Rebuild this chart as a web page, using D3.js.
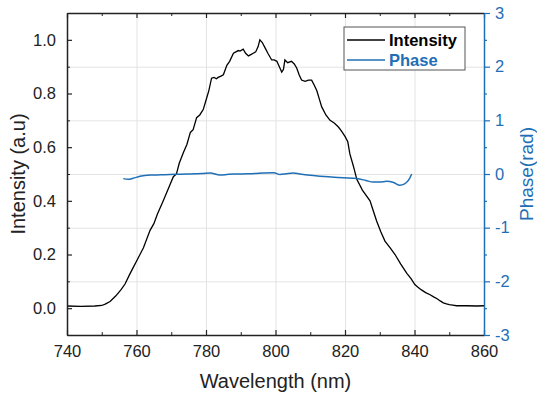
<html>
  <head>
    <meta charset="utf-8" />
    <script src="https://cdnjs.cloudflare.com/ajax/libs/d3/7.6.1/d3.min.js"></script>
    <style>
      body { margin: 0; background: #fff; }
      svg { font-family: "Liberation Sans", Arial, sans-serif; }
      .grid line { stroke: #e3e3e3; stroke-width: 1; }
      .grid path { display: none; }
    </style>
  </head>
  <body>
    <svg width="537" height="396"></svg>
  </body>
  <script>
    // intensity spectrum
    var wl = [740, 744, 748, 750, 751, 752.4, 754, 755.5, 756.7, 758, 759, 760, 761, 762, 763.9, 765, 766, 767.7,
      769, 770.6, 771.5, 772.3, 773.5, 774.5, 775.5, 776.3, 777.3, 778.2, 779.2, 780, 780.8, 781.6, 782.3, 783, 783.5,
      784.3, 785, 786, 786.8, 787.9, 788.6, 789.3, 789.8, 790.7, 791.4, 792.2, 792.9, 793.6, 794.3, 795, 795.5, 796.2,
      797, 797.8, 798.9, 799.6, 800.4, 801.1, 801.8, 802.3, 802.7, 803.5, 804.6, 805.4, 806.1, 806.8, 807.5, 808.5,
      809.5, 810.4, 811.2, 811.9, 812.6, 813.3, 814.5, 815.7, 816.9, 818.1, 819, 820, 820.8, 821.4, 822.4, 823.4,
      825, 827.2, 828.2, 829.1, 830.3, 831.5, 833, 834.4, 836, 837.8, 839, 840.1, 841, 842, 843.2, 844.5, 845.5,
      846.5, 847.4, 848.3, 849.2, 850, 851, 852.1, 855, 858, 860];
    var intensity = [0.008, 0.007, 0.008, 0.01, 0.015, 0.025, 0.045, 0.068, 0.09, 0.125, 0.15, 0.175, 0.2, 0.225,
      0.29, 0.315, 0.35, 0.40, 0.44, 0.49, 0.5, 0.54, 0.58, 0.61, 0.655, 0.665, 0.71, 0.72, 0.74, 0.775, 0.81, 0.857,
      0.86, 0.855, 0.86, 0.865, 0.87, 0.905, 0.92, 0.95, 0.955, 0.96, 0.958, 0.965, 0.95, 0.94, 0.945, 0.95, 0.955,
      0.975, 1.0, 0.99, 0.97, 0.95, 0.925, 0.925, 0.92, 0.90, 0.88, 0.89, 0.925, 0.915, 0.92, 0.91, 0.895, 0.87,
      0.85, 0.845, 0.85, 0.85, 0.83, 0.81, 0.78, 0.75, 0.72, 0.70, 0.69, 0.675, 0.66, 0.64, 0.62, 0.575, 0.53, 0.48,
      0.44, 0.40, 0.36, 0.325, 0.285, 0.25, 0.225, 0.20, 0.165, 0.13, 0.11, 0.088, 0.078, 0.068, 0.058, 0.05, 0.042,
      0.035, 0.027, 0.02, 0.016, 0.013, 0.011, 0.009, 0.009, 0.008, 0.009];

    // retrieved spectral phase
    var phaseWl = [756.2, 757.6, 759, 761, 764, 767, 769.6, 772, 774.4, 777, 779, 781.2, 784, 786.5, 788.8, 792,
      794, 796.5, 799.5, 801.3, 803, 805.1, 807, 810, 812.8, 816, 819.5, 823.4, 826, 828.1, 830, 832, 834, 835.8,
      837, 837.8, 838.6, 839.2];
    var phase = [-0.086, -0.1, -0.08, -0.043, -0.02, -0.015, -0.01, -0.005, 0.0, 0.005, 0.01, 0.02, -0.02, -0.005,
      0.0, 0.005, 0.01, 0.02, 0.025, -0.01, 0.005, 0.02, 0.0, -0.025, -0.04, -0.055, -0.07, -0.086, -0.12, -0.15,
      -0.15, -0.136, -0.16, -0.21, -0.19, -0.15, -0.08, 0.0];

    var xTicks = [740, 760, 780, 800, 820, 840, 860];
    var yTicks = [0.0, 0.2, 0.4, 0.6, 0.8, 1.0];
    var y2Ticks = [-3, -2, -1, 0, 1, 2, 3];
    var seriesNames = ["Intensity", "Phase"];

    var blue = "#1f6fb6";
    var pL = 67, pR = 484, pT = 13, pB = 335;
    var svg = d3.select("svg");

    var x = d3.scaleLinear().domain([740, 860]).range([pL, pR]);
    var y = d3.scaleLinear().domain([-0.1, 1.1]).range([pB, pT]);
    var y2 = d3.scaleLinear().domain([-3, 3]).range([pB, pT]);

    // grid
    svg.append("g").attr("class", "grid")
      .attr("transform", "translate(0," + pB + ")")
      .call(d3.axisBottom(x).tickValues([760, 780, 800, 820, 840]).tickSize(-(pB - pT)).tickFormat(""));
    svg.append("g").attr("class", "grid")
      .attr("transform", "translate(" + pL + ",0)")
      .call(d3.axisLeft(y2).tickValues([-2, -1, 0, 1, 2]).tickSize(-(pR - pL)).tickFormat(""));

    // curves
    var intLine = d3.line().x((d, i) => x(wl[i])).y((d) => y(d));
    svg.append("path").datum(intensity)
      .attr("d", intLine).attr("fill", "none").attr("stroke", "#000").attr("stroke-width", 1.3);

    var phLine = d3.line().curve(d3.curveMonotoneX).x((d, i) => x(phaseWl[i])).y((d) => y2(d));
    svg.append("path").datum(phase)
      .attr("d", phLine).attr("fill", "none").attr("stroke", blue).attr("stroke-width", 1.5);

    // axes
    function styleAxis(g, color) {
      g.select(".domain").attr("stroke", color).attr("stroke-width", 1.5);
      g.selectAll(".tick line").attr("stroke", color).attr("stroke-width", 1.2);
      g.selectAll("text").attr("fill", color).style("font-size", "16.5px")
        .style("font-family", "'Liberation Sans', Arial, sans-serif");
    }
    var minorX = d3.range(750, 860, 20);
    var minorY = [-0.1, 0.1, 0.3, 0.5, 0.7, 0.9, 1.1];
    var minorY2 = [-2.5, -1.5, -0.5, 0.5, 1.5, 2.5];

    var gx = svg.append("g").attr("transform", "translate(0," + pB + ")")
      .call(d3.axisBottom(x).tickValues(xTicks).tickSizeInner(-5).tickSizeOuter(0).tickPadding(10).tickFormat(d3.format("d")));
    styleAxis(gx, "#222");
    svg.append("g").attr("transform", "translate(0," + pB + ")")
      .call(d3.axisBottom(x).tickValues(minorX).tickSizeInner(-3).tickSizeOuter(0).tickFormat(""))
      .call((g) => { g.select(".domain").remove(); g.selectAll("line").attr("stroke", "#222"); });

    var gt = svg.append("g").attr("transform", "translate(0," + pT + ")")
      .call(d3.axisTop(x).tickValues(xTicks).tickSizeInner(-5).tickSizeOuter(0).tickFormat(""));
    styleAxis(gt, "#222");
    svg.append("g").attr("transform", "translate(0," + pT + ")")
      .call(d3.axisTop(x).tickValues(minorX).tickSizeInner(-3).tickSizeOuter(0).tickFormat(""))
      .call((g) => { g.select(".domain").remove(); g.selectAll("line").attr("stroke", "#222"); });

    var gy = svg.append("g").attr("transform", "translate(" + pL + ",0)")
      .call(d3.axisLeft(y).tickValues(yTicks).tickSizeInner(-5).tickSizeOuter(0).tickPadding(11).tickFormat(d3.format(".1f")));
    styleAxis(gy, "#222");
    svg.append("g").attr("transform", "translate(" + pL + ",0)")
      .call(d3.axisLeft(y).tickValues(minorY).tickSizeInner(-3).tickSizeOuter(0).tickFormat(""))
      .call((g) => { g.select(".domain").remove(); g.selectAll("line").attr("stroke", "#222"); });

    var gy2 = svg.append("g").attr("transform", "translate(" + pR + ",0)")
      .call(d3.axisRight(y2).tickValues(y2Ticks).tickSizeInner(6).tickSizeOuter(0).tickPadding(5));
    styleAxis(gy2, blue);
    gy2.selectAll("text").text((d) => d < 0 ? "-" + Math.abs(d) : d);
    svg.append("g").attr("transform", "translate(" + pR + ",0)")
      .call(d3.axisRight(y2).tickValues(minorY2).tickSizeInner(3).tickSizeOuter(0).tickFormat(""))
      .call((g) => { g.select(".domain").remove(); g.selectAll("line").attr("stroke", blue).attr("stroke-width", 1.2); });

    // axis titles
    svg.append("text").attr("x", (pL + pR) / 2).attr("y", 388).attr("text-anchor", "middle")
      .style("font-size", "20px").attr("fill", "#222").text("Wavelength (nm)");
    svg.append("text").attr("transform", "translate(25," + (pT + pB) / 2 + ") rotate(-90)")
      .attr("text-anchor", "middle").style("font-size", "20px").attr("fill", "#222").text("Intensity (a.u)");
    svg.append("text").attr("transform", "translate(533," + (pT + pB) / 2 + ") rotate(-90)")
      .attr("text-anchor", "middle").style("font-size", "19px").attr("fill", blue).text("Phase(rad)");

    // legend
    var lg = svg.append("g").attr("transform", "translate(344,27)");
    lg.append("rect").attr("width", 121).attr("height", 43).attr("fill", "#fff")
      .attr("stroke", "#555").attr("stroke-width", 1);
    var colors = ["#000", blue];
    seriesNames.forEach(function (name, i) {
      lg.append("line").attr("x1", 3).attr("x2", 41).attr("y1", 13 + i * 20).attr("y2", 13 + i * 20)
        .attr("stroke", colors[i]).attr("stroke-width", 1.4);
      lg.append("text").attr("x", 45).attr("y", 19 + i * 20).style("font-size", "16.5px")
        .style("font-weight", "bold").attr("fill", colors[i]).text(name);
    });
  </script>
</html>
